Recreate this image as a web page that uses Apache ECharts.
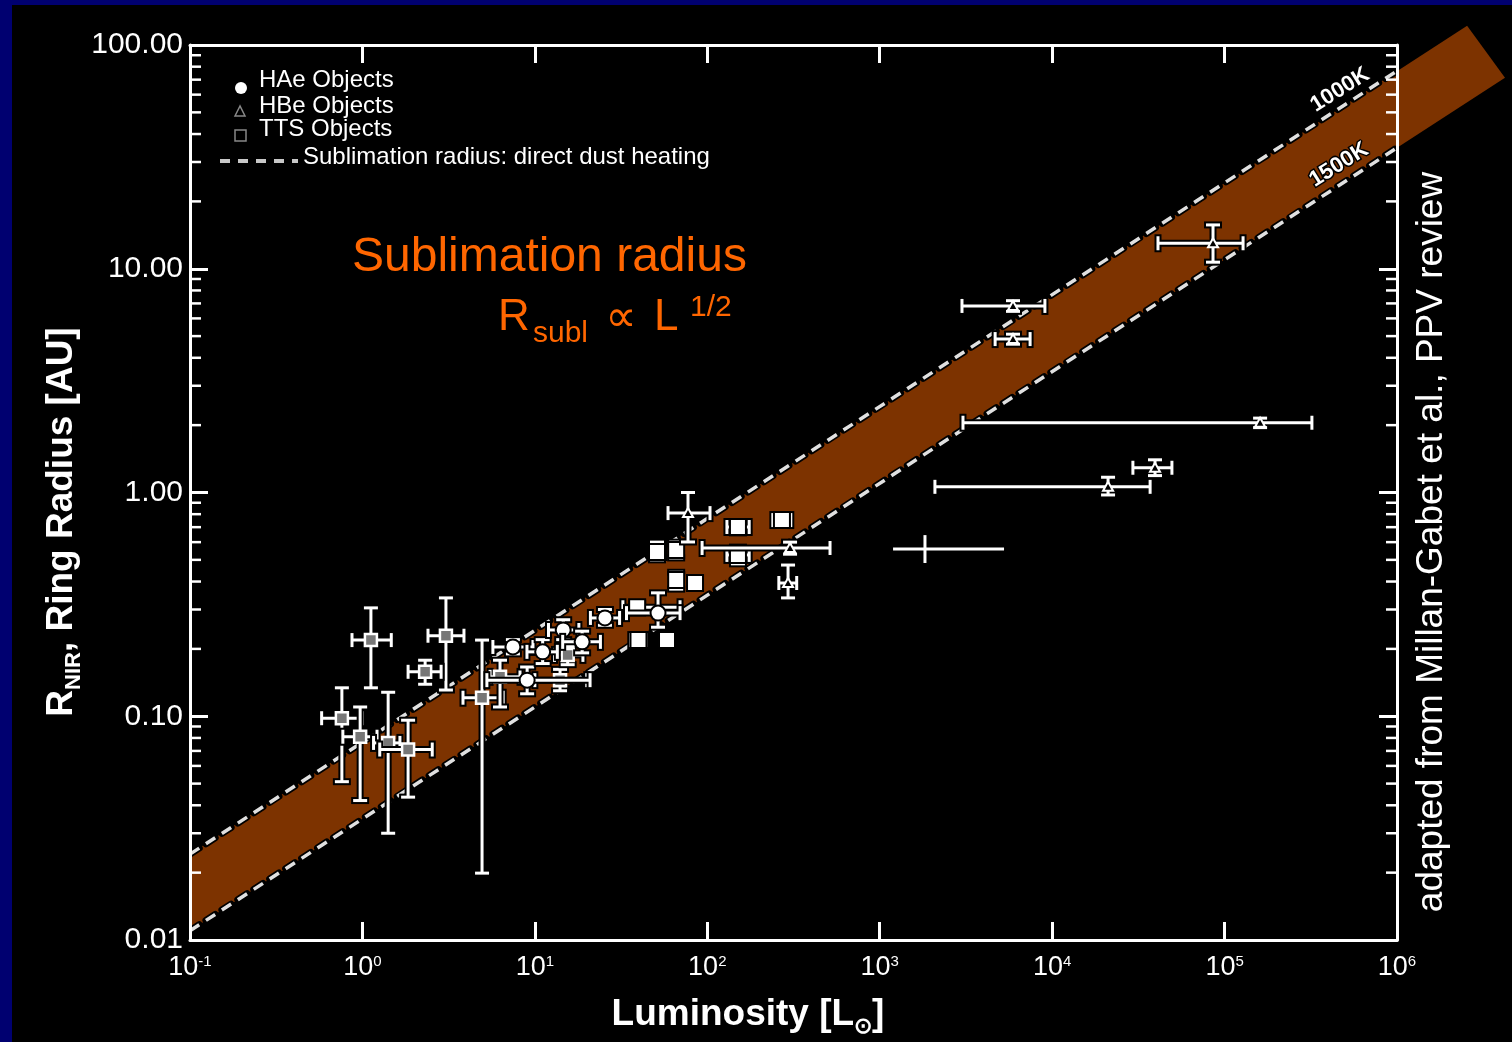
<!DOCTYPE html>
<html>
<head>
<meta charset="utf-8">
<script src="https://cdn.jsdelivr.net/npm/echarts@6/dist/echarts.min.js"></script>
<style>
  html, body { margin: 0; padding: 0; background: #000; }
  #chart { width: 1512px; height: 1042px; }
</style>
</head>
<body>
<div id="chart"></div>
<script>
// Near-infrared ring radius against stellar luminosity, with the dust sublimation band.
// Each row: [L, R, L_low, L_high, R_low, R_high]   (L in solar luminosities, R in AU)
const haeObjects = [
  [7.46, 0.204, 5.71, 9.75, 0.190, 0.220],
  [9.02, 0.145, 5.27, 20.9, 0.126, 0.166],
  [11.1, 0.194, 9.0, 13.5, 0.172, 0.220],
  [14.6, 0.243, 12.0, 18.0, 0.220, 0.270],
  [18.8, 0.215, 14.5, 24.0, 0.192, 0.240],
  [25.5, 0.275, 21.0, 31.0, 0.255, 0.300],
  [51.8, 0.289, 34.0, 69.5, 0.250, 0.356]
];
const hbeObjects = [
  [77.3, 0.809, 59.2, 103.7, 0.601, 1.00],
  [302, 0.565, 93.3, 515, 0.530, 0.600],
  [294, 0.394, 260, 330, 0.338, 0.474],
  [5930, 6.82, 3000, 9080, 6.45, 7.20],
  [5930, 4.85, 4670, 7450, 4.60, 5.10],
  [85700, 13.0, 41100, 128000, 10.7, 15.7],
  [160700, 2.05, 3040, 321000, 1.95, 2.15],
  [21100, 1.06, 2090, 37000, 0.975, 1.17],
  [39500, 1.29, 29400, 49500, 1.19, 1.40]
];
const ttsObjects = [
  [1.12, 0.219, 0.87, 1.47, 0.134, 0.305],
  [3.05, 0.229, 2.40, 3.88, 0.131, 0.338],
  [2.31, 0.158, 1.84, 2.86, 0.139, 0.178],
  [0.76, 0.098, 0.58, 1.00, 0.051, 0.134],
  [0.97, 0.081, 0.77, 1.215, 0.042, 0.110],
  [1.41, 0.076, 1.16, 1.65, 0.030, 0.128],
  [1.84, 0.071, 1.26, 2.54, 0.0435, 0.096],
  [4.94, 0.121, 3.83, 6.55, 0.0199, 0.219],
  [6.28, 0.150, 5.50, 8.20, 0.110, 0.178],
  [14.0, 0.145, 10.0, 20.0, 0.130, 0.162],
  [15.5, 0.188, 13.0, 19.0, 0.170, 0.205]
];
const compactObjects = [
  [51.1, 0.542, 47.0, 56.0, 0.500, 0.600],
  [66.0, 0.553, 62.0, 70.0, 0.510, 0.600],
  [66.0, 0.406, 62.0, 70.0, 0.370, 0.440],
  [84.9, 0.394, 79.0, 91.0, 0.380, 0.410],
  [150.6, 0.701, 130, 175, 0.660, 0.740],
  [150.6, 0.526, 130, 175, 0.480, 0.570],
  [271, 0.753, 240, 305, 0.730, 0.780],
  [39.2, 0.307, 32.4, 69.5, 0.290, 0.320],
  [39.9, 0.219, 36.0, 44.0, 0.210, 0.230],
  [58.4, 0.219, 53.0, 64.0, 0.210, 0.230]
];
const highlightCross = [[1830, 0.559, 1195, 5260, 0.484, 0.645]];

// Sublimation radius R ∝ L^1/2 for dust at 1000 K and 1500 K
const bandL = [0.1, 1e6];
const radius1000K = [0.0242, 76.6];
const radius1500K = [0.011, 34.7];
const bandEndUpper = [2.55e6, 122];
const bandEndLower = [4.23e6, 71.4];

const xRange = [0.1, 1e6];
const yRange = [0.01, 100];
const minorSteps = [2, 3, 4, 5, 6, 7, 8, 9];

const WHITE = '#ffffff';
const BAND = '#7d3300';
const ORANGE = '#ff6600';
const FIG_FONT = '"Liberation Sans", Arial, sans-serif';
const SLIDE_FONT = '"Liberation Sans", Arial, sans-serif';

const chart = echarts.init(document.getElementById('chart'));

function seg(a, b, stroke, width) {
  return { type: 'line', shape: { x1: a[0], y1: a[1], x2: b[0], y2: b[1] },
           style: { stroke: stroke, lineWidth: width, lineCap: 'butt' } };
}

function errorBarItem(marker) {
  return function (params, api) {
    const L = api.value(0), R = api.value(1);
    const c = api.coord([L, R]);
    const xl = api.coord([api.value(2), R]), xh = api.coord([api.value(3), R]);
    const yl = api.coord([L, api.value(4)]), yh = api.coord([L, api.value(5)]);
    const cap = 7;
    const segs = [
      [xl, xh], [yl, yh],
      [[xl[0], xl[1] - cap], [xl[0], xl[1] + cap]],
      [[xh[0], xh[1] - cap], [xh[0], xh[1] + cap]],
      [[yl[0] - cap, yl[1]], [yl[0] + cap, yl[1]]],
      [[yh[0] - cap, yh[1]], [yh[0] + cap, yh[1]]]
    ];
    const children = [];
    // dark halo first, then the white bars and caps on top
    segs.forEach(s => {
      const vert = s[0][0] === s[1][0];
      children.push(seg([s[0][0] - (vert ? 0 : 2), s[0][1] - (vert ? 2 : 0)],
                        [s[1][0] + (vert ? 0 : 2), s[1][1] + (vert ? 2 : 0)], '#000', 7));
    });
    segs.forEach(s => children.push(seg(s[0], s[1], WHITE, 3)));
    if (marker) children.push(marker(c));
    return { type: 'group', children: children };
  };
}

const markers = {
  circle: c => ({ type: 'circle', shape: { cx: c[0], cy: c[1], r: 7.5 }, style: { fill: WHITE, stroke: '#000', lineWidth: 2 } }),
  solidSquare: c => ({ type: 'rect', shape: { x: c[0] - 8, y: c[1] - 8, width: 16, height: 16 }, style: { fill: WHITE, stroke: '#000', lineWidth: 2 } }),
  openSquare: c => ({ type: 'rect', shape: { x: c[0] - 6, y: c[1] - 6, width: 12, height: 12 }, style: { fill: '#777', stroke: WHITE, lineWidth: 2.5 } }),
  triangle: c => ({ type: 'polygon', shape: { points: [[c[0], c[1] - 5], [c[0] - 5, c[1] + 4], [c[0] + 5, c[1] + 4]] }, style: { fill: '#000', stroke: WHITE, lineWidth: 2 } })
};

function pointsSeries(name, rows, marker) {
  return {
    name: name, type: 'custom', coordinateSystem: 'cartesian2d', xAxisIndex: 0, yAxisIndex: 0,
    renderItem: errorBarItem(marker), data: rows, encode: { x: 0, y: 1 }, z: 5, clip: true
  };
}

// minor ticks (2..9 within each decade) on the left and right frame
const yMinor = [];
for (let e = Math.log10(yRange[0]); e < Math.log10(yRange[1]); e++) {
  minorSteps.forEach(m => yMinor.push([xRange[0], m * Math.pow(10, e)]));
}

function dashedEdge(rows, color, width, cap, z) {
  return {
    type: 'line', data: rows, symbol: 'none', silent: true, z: z, clip: true,
    lineStyle: { color: color, width: width, type: [11, 8], cap: cap }
  };
}

const bandPolygon = {
  type: 'custom', coordinateSystem: 'cartesian2d', clip: false, z: 1, silent: true,
  data: [[bandL[0], radius1000K[0]]],
  renderItem: function (params, api) {
    const pts = [
      api.coord([bandL[0], radius1000K[0]]),
      api.coord(bandEndUpper),
      api.coord(bandEndLower),
      api.coord([bandL[0], radius1500K[0]])
    ];
    return { type: 'polygon', shape: { points: pts }, style: { fill: BAND } };
  }
};

const minorTickSeries = {
  type: 'custom', coordinateSystem: 'cartesian2d', z: 20, silent: true, clip: false,
  data: yMinor, encode: { x: 0, y: 1 },
  renderItem: function (params, api) {
    const v = api.value(1);
    const l = api.coord([xRange[0], v]);
    const r = api.coord([xRange[1], v]);
    return { type: 'group', children: [
      seg([l[0], l[1]], [l[0] + 11, l[1]], WHITE, 2.5),
      seg([r[0] - 11, r[1]], [r[0], r[1]], WHITE, 2.5)
    ] };
  }
};

const axisCommon = {
  type: 'log', logBase: 10, z: 20,
  axisLine: { show: true, lineStyle: { color: WHITE, width: 3 } },
  axisTick: { show: true, inside: true, length: 18, lineStyle: { color: WHITE, width: 3 } },
  splitLine: { show: false }, minorTick: { show: false }
};

const option = {
  backgroundColor: '#000',
  animation: false,
  grid: { left: 190, right: 115, top: 45, bottom: 102, containLabel: false },
  xAxis: [
    Object.assign({}, axisCommon, {
      min: xRange[0], max: xRange[1], position: 'bottom', splitNumber: 7,
      axisLabel: {
        margin: 14, color: WHITE,
        formatter: v => '{b|10}{s|' + Math.round(Math.log10(v)) + '}',
        rich: {
          b: { fontFamily: FIG_FONT, fontSize: 27, color: WHITE, lineHeight: 28 },
          s: { fontFamily: FIG_FONT, fontSize: 15, color: WHITE, lineHeight: 15, verticalAlign: 'top' }
        }
      }
    }),
    Object.assign({}, axisCommon, {
      min: xRange[0], max: xRange[1], position: 'top', splitNumber: 7, axisLabel: { show: false }
    })
  ],
  yAxis: [
    Object.assign({}, axisCommon, {
      min: yRange[0], max: yRange[1], position: 'left', splitNumber: 4,
      axisLabel: {
        margin: 7, color: WHITE, fontFamily: FIG_FONT, fontSize: 30,
        formatter: v => Number(v).toFixed(2)
      }
    }),
    Object.assign({}, axisCommon, {
      min: yRange[0], max: yRange[1], position: 'right', splitNumber: 4, axisLabel: { show: false }
    })
  ],
  series: [
    bandPolygon,
    dashedEdge([[bandL[0], radius1000K[0]], [bandL[1], radius1000K[1]]], '#000', 7, 'round', 2),
    dashedEdge([[bandL[0], radius1000K[0]], [bandL[1], radius1000K[1]]], '#e0e0e0', 3.5, 'butt', 3),
    dashedEdge([[bandL[0], radius1500K[0]], [bandL[1], radius1500K[1]]], '#000', 7, 'round', 2),
    dashedEdge([[bandL[0], radius1500K[0]], [bandL[1], radius1500K[1]]], '#e0e0e0', 3.5, 'butt', 3),
    pointsSeries('TTS Objects', ttsObjects, markers.openSquare),
    pointsSeries('Compact', compactObjects, markers.solidSquare),
    pointsSeries('HAe Objects', haeObjects, markers.circle),
    pointsSeries('HBe Objects', hbeObjects, markers.triangle),
    {
      type: 'custom', coordinateSystem: 'cartesian2d', z: 6, data: highlightCross, encode: { x: 0, y: 1 },
      renderItem: function (params, api) {
        const L = api.value(0), R = api.value(1);
        const xl = api.coord([api.value(2), R]), xh = api.coord([api.value(3), R]);
        const yl = api.coord([L, api.value(4)]), yh = api.coord([L, api.value(5)]);
        return { type: 'group', children: [seg(xl, xh, WHITE, 3), seg(yl, yh, WHITE, 3)] };
      }
    },
    minorTickSeries
  ],
  graphic: [
    // slide frame
    { type: 'rect', left: 0, top: 0, shape: { width: 12, height: 1042 }, style: { fill: '#000070' }, z: 50 },
    { type: 'rect', left: 0, top: 0, shape: { width: 1512, height: 5 }, style: { fill: '#000070' }, z: 50 },
    // legend
    { type: 'circle', x: 241, y: 88, shape: { r: 6 }, style: { fill: WHITE }, z: 30 },
    { type: 'polygon', shape: { points: [[240, 106], [235, 116], [245, 116]] }, style: { fill: 'none', stroke: '#888', lineWidth: 1.5 }, z: 30 },
    { type: 'rect', shape: { x: 235, y: 130, width: 11, height: 11 }, style: { fill: 'none', stroke: '#888', lineWidth: 1.5 }, z: 30 },
    { type: 'line', shape: { x1: 220, y1: 161, x2: 298, y2: 161 }, style: { stroke: '#c8c8c8', lineWidth: 4, lineDash: [10, 8] }, z: 30 },
    { type: 'text', x: 259, y: 80, style: { text: 'HAe Objects', fill: WHITE, font: '24px ' + SLIDE_FONT, textVerticalAlign: 'middle' }, z: 30 },
    { type: 'text', x: 259, y: 106, style: { text: 'HBe Objects', fill: WHITE, font: '24px ' + SLIDE_FONT, textVerticalAlign: 'middle' }, z: 30 },
    { type: 'text', x: 259, y: 129, style: { text: 'TTS Objects', fill: WHITE, font: '24px ' + SLIDE_FONT, textVerticalAlign: 'middle' }, z: 30 },
    { type: 'text', x: 303, y: 157, style: { text: 'Sublimation radius: direct dust heating', fill: WHITE, font: '24px ' + SLIDE_FONT, textVerticalAlign: 'middle' }, z: 30 },
    // band temperature labels
    { type: 'text', x: 1340, y: 90, rotation: 0.56, style: { text: '1000K', fill: WHITE, stroke: '#000', lineWidth: 3, font: 'bold 22px ' + SLIDE_FONT, textAlign: 'center', textVerticalAlign: 'middle' }, z: 30 },
    { type: 'text', x: 1339, y: 165, rotation: 0.56, style: { text: '1500K', fill: WHITE, stroke: '#000', lineWidth: 3, font: 'bold 22px ' + SLIDE_FONT, textAlign: 'center', textVerticalAlign: 'middle' }, z: 30 },
    // orange annotation
    { type: 'text', x: 352, y: 258, style: { text: 'Sublimation radius', fill: ORANGE, font: '48px ' + SLIDE_FONT, textVerticalAlign: 'middle' }, z: 30 },
    { type: 'text', x: 498, y: 318, style: { text: 'R', fill: ORANGE, font: '44px ' + SLIDE_FONT, textVerticalAlign: 'middle' }, z: 30 },
    { type: 'text', x: 533, y: 334, style: { text: 'subl', fill: ORANGE, font: '30px ' + SLIDE_FONT, textVerticalAlign: 'middle' }, z: 30 },
    { type: 'text', x: 621, y: 320, style: { text: '∝', fill: ORANGE, font: '44px "DejaVu Sans", sans-serif', textAlign: 'center', textVerticalAlign: 'middle' }, z: 30 },
    { type: 'text', x: 654, y: 318, style: { text: 'L', fill: ORANGE, font: '44px ' + SLIDE_FONT, textVerticalAlign: 'middle' }, z: 30 },
    { type: 'text', x: 690, y: 308, style: { text: '1/2', fill: ORANGE, font: '30px ' + SLIDE_FONT, textVerticalAlign: 'middle' }, z: 30 },
    // axis titles
    {
      type: 'text', x: 62, y: 522, rotation: Math.PI / 2, z: 30,
      style: {
        text: '{a|R}{b|NIR}{a|, Ring Radius [AU]}', textAlign: 'center', textVerticalAlign: 'middle',
        rich: {
          a: { font: 'bold 37px ' + SLIDE_FONT, fill: WHITE, lineHeight: 46 },
          b: { font: 'bold 22px ' + SLIDE_FONT, fill: WHITE, lineHeight: 22, verticalAlign: 'bottom' }
        }
      }
    },
    {
      type: 'text', x: 748, y: 1015, z: 30,
      style: {
        text: '{a|Luminosity [L}{b|⊙}{a|]}', textAlign: 'center', textVerticalAlign: 'middle',
        rich: {
          a: { font: 'bold 37px ' + SLIDE_FONT, fill: WHITE, lineHeight: 46 },
          b: { font: 'bold 22px ' + SLIDE_FONT, fill: WHITE, lineHeight: 22, verticalAlign: 'bottom' }
        }
      }
    },
    // credit
    {
      type: 'text', x: 1432, y: 542, rotation: Math.PI / 2, z: 30,
      style: { text: 'adapted from Millan-Gabet et al., PPV review', fill: WHITE, font: '37px ' + SLIDE_FONT, textAlign: 'center', textVerticalAlign: 'middle' }
    }
  ]
};

chart.setOption(option);
</script>
</body>
</html>
